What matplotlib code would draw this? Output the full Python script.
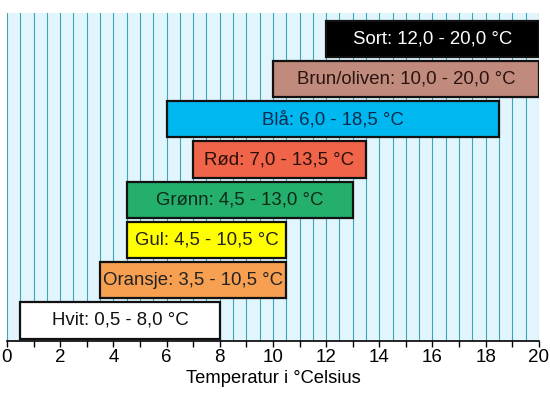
import matplotlib
matplotlib.use('Agg')
import matplotlib.pyplot as plt
import numpy as np

plt.rcParams['font.family'] = ['Liberation Sans', 'DejaVu Sans']

# colour names (bottom to top) and temperature ranges
names = ['Hvit', 'Oransje', 'Gul', 'Grønn', 'Rød', 'Blå', 'Brun/oliven', 'Sort']
low = [0.5, 3.5, 4.5, 4.5, 7.0, 6.0, 10.0, 12.0]
high = [8.0, 10.5, 10.5, 13.0, 13.5, 18.5, 20.0, 20.0]
colors = ['#ffffff', '#f7a052', '#ffff00', '#24b06c', '#f0644a', '#00b8f0', '#c08a7c', '#000000']
text_colors = ['#111111', '#222222', '#222222', '#0c2a18', '#2a0e08', '#0a2a50', '#2a1410', '#ffffff']

fig = plt.figure(figsize=(5.5, 3.96), dpi=100)
ax = fig.add_axes([0.0127, 0.139, 0.967, 0.829])
ax.set_facecolor('#e2f5fc')

# vertical grid every 0.5 degrees
for gx in np.arange(0, 20.01, 0.5):
    ax.axvline(gx, color='#3aa6b6', lw=0.8, zorder=1)

y = np.arange(len(names))
widths = np.array(high) - np.array(low)
ax.barh(y, widths, left=low, height=0.9, color=colors, edgecolor='#111111',
        linewidth=1.6, zorder=3)

for i in range(len(names)):
    lab = f'{names[i]}: {low[i]:.1f} - {high[i]:.1f} °C'.replace('.', ',')
    ax.text((low[i] + high[i]) / 2, y[i], lab, ha='center', va='center',
            fontsize=13.4, color=text_colors[i], zorder=4)

ax.set_xlim(0, 20)
ax.set_ylim(-0.51, 7.65)
ax.set_yticks([])
ax.set_xticks(np.arange(0, 21, 2))
ax.set_xticks(np.arange(0, 21, 1), minor=True)
ax.tick_params(axis='x', which='both', direction='out', length=4, width=1, labelsize=13.5, pad=1.5)
for s in ['left', 'right', 'top']:
    ax.spines[s].set_visible(False)
ax.spines['bottom'].set_linewidth(1.2)
ax.set_xlabel('Temperatur i °Celsius', fontsize=13.2, labelpad=3)

fig.savefig('out.png', dpi=100)
